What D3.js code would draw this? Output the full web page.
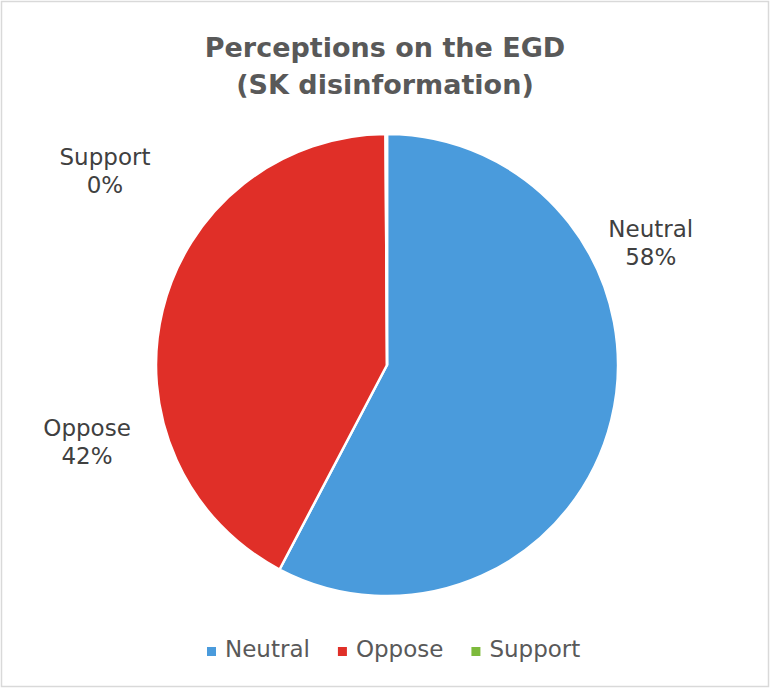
<!DOCTYPE html>
<html>
<head>
<meta charset="utf-8">
<script src="https://cdn.jsdelivr.net/npm/d3@7"></script>
<style>
  body { margin: 0; background: #fff; }
  svg { display: block; font-family: "DejaVu Sans", sans-serif; }
</style>
</head>
<body>
<div class="chart"></div>
<script>
// data
var categories = ["Neutral", "Oppose", "Support"];
var shares = [57.7, 42.2, 0.1];
var colors = ["#4a9bdc", "#e02f28", "#7dba3c"];
var titleLines = ["Perceptions on the EGD", "(SK disinformation)"];

// label layout (excel "best fit": angle in degrees from top, distance in radii)
var labelPlace = [
  { angle: 65, dist: 1.26 },
  { angle: 255.7, dist: 1.34 },
  { angle: 304.7, dist: 1.485 }
];

var width = 771, height = 688;
var cx = 387, cy = 365, radius = 231;

var svg = d3.select(".chart").append("svg")
    .attr("width", width)
    .attr("height", height);

// chart border
svg.append("rect")
    .attr("x", 1.5).attr("y", 1.5)
    .attr("width", width - 4).attr("height", height - 3)
    .attr("fill", "#fff")
    .attr("stroke", "#d9d9d9")
    .attr("stroke-width", 1.5);

// title
svg.append("g").attr("class", "title")
  .selectAll("text")
  .data(titleLines).enter()
  .append("text")
    .attr("x", cx - 2)
    .attr("y", function(d, i){ return 57 + i * 37; })
    .attr("text-anchor", "middle")
    .attr("font-size", 27)
    .attr("font-weight", "bold")
    .attr("fill", "#595959")
    .text(function(d){ return d; });

var pieData = categories.map(function(c, i){
  return { name: c, value: shares[i], color: colors[i] };
});

var pie = d3.pie().sort(null).value(function(d){ return d.value; });
var arc = d3.arc().innerRadius(0).outerRadius(radius);
var arcs = pie(pieData);

var pieGroup = svg.append("g")
    .attr("transform", "translate(" + cx + "," + cy + ")");

pieGroup.selectAll(".slice")
  .data(arcs).enter()
  .append("path")
    .attr("class", "slice")
    .attr("d", arc)
    .attr("fill", function(d){ return d.data.color; })
    .attr("stroke", "#fff")
    .attr("stroke-width", 2.5)
    .attr("stroke-linejoin", "round");

// data labels
var labels = pieGroup.selectAll(".lbl")
  .data(arcs).enter()
  .append("text")
    .attr("class", "lbl")
    .attr("text-anchor", "middle")
    .attr("font-size", 23)
    .attr("fill", "#404040")
    .attr("transform", function(d, i){
      var a = labelPlace[i].angle * Math.PI / 180,
          r = labelPlace[i].dist * radius;
      return "translate(" + (Math.sin(a) * r) + "," + (-Math.cos(a) * r) + ")";
    });
labels.append("tspan")
    .attr("x", 0).attr("y", -5)
    .text(function(d){ return d.data.name; });
labels.append("tspan")
    .attr("x", 0).attr("y", 23)
    .text(function(d){ return Math.round(d.data.value) + "%"; });

// legend
var legend = svg.append("g").attr("class", "legend")
    .attr("transform", "translate(207,657)");
var lx = 0;
pieData.forEach(function(d){
  var g = legend.append("g").attr("transform", "translate(" + lx + ",0)");
  g.append("rect")
      .attr("x", 0).attr("y", -10)
      .attr("width", 9).attr("height", 9)
      .attr("fill", d.color);
  var t = g.append("text")
      .attr("x", 18).attr("y", 0)
      .attr("font-size", 23)
      .attr("fill", "#595959")
      .text(d.name);
  lx += 18 + t.node().getComputedTextLength() + 28;
});
</script>
</body>
</html>
